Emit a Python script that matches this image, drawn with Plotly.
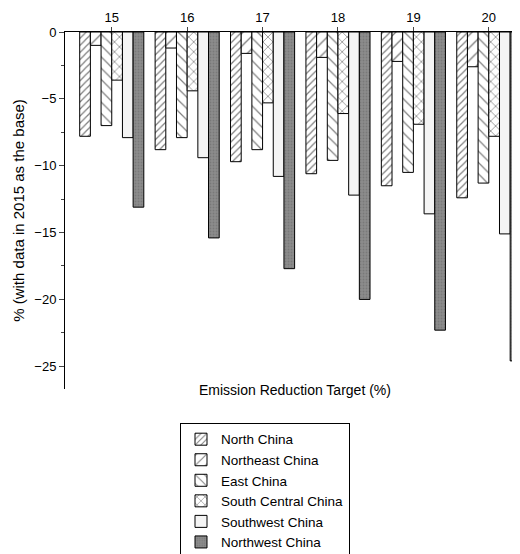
import plotly.graph_objects as go

targets = ["15", "16", "17", "18", "19", "20"]
regions = ["North China", "Northeast China", "East China", "South Central China",
           "Southwest China", "Northwest China"]
north = [-7.8, -8.8, -9.7, -10.6, -11.5, -12.4]
northeast = [-1.0, -1.2, -1.6, -1.9, -2.2, -2.6]
east = [-7.0, -7.9, -8.8, -9.6, -10.5, -11.3]
south_central = [-3.6, -4.4, -5.3, -6.1, -6.9, -7.8]
southwest = [-7.9, -9.4, -10.8, -12.2, -13.6, -15.1]
northwest = [-13.1, -15.4, -17.7, -20.0, -22.3, -24.6]
series = [north, northeast, east, south_central, southwest, northwest]

styles = [
    dict(color="white", pattern=dict(shape="/", size=5, solidity=0.25, fgcolor="black")),
    dict(color="white", pattern=dict(shape="/", size=9, solidity=0.15, fgcolor="black")),
    dict(color="white", pattern=dict(shape="\\", size=8, solidity=0.15, fgcolor="black")),
    dict(color="white", pattern=dict(shape="x", size=7, solidity=0.2, fgcolor="black")),
    dict(color="#f4f4f4"),
    dict(color="#8c8c8c", pattern=dict(shape=".", size=3, solidity=0.3, fgcolor="#666666")),
]

fig = go.Figure()
for name, vals, st in zip(regions, series, styles):
    fig.add_trace(go.Bar(x=targets, y=vals, name=name,
                         marker=dict(line=dict(color="black", width=1), **st)))

fig.update_layout(
    width=520, height=554,
    barmode="group", bargap=0.15, bargroupgap=0,
    plot_bgcolor="white", paper_bgcolor="white",
    margin=dict(l=57, r=3, t=24, b=169),
    font=dict(family="Liberation Sans, Arial", size=13, color="black"),
    xaxis=dict(side="top", showline=True, linecolor="black", mirror=False,
               ticks="outside", ticklen=4, range=[-0.62, 5.48],
               tickfont=dict(size=13, family="Liberation Sans, Arial Black")),
    yaxis=dict(range=[-26.7, 0], dtick=5, showline=True, linecolor="black",
               ticks="outside", ticklen=5, showgrid=False, zeroline=False,
               minor=dict(ticks="outside", ticklen=3, dtick=2.5),
               title=dict(text="% (with data in 2015 as the base)", font=dict(size=15),
                          standoff=6)),
    legend=dict(x=0.25, y=-0.095, xanchor="left", yanchor="top",
                bordercolor="black", borderwidth=1, font=dict(size=13.5),
                tracegroupgap=0, itemwidth=30),
    annotations=[dict(text="Emission Reduction Target (%)", xref="paper", yref="paper",
                      x=0.5, y=-0.03, showarrow=False, font=dict(size=14))],
)

fig.write_html("out.html")
